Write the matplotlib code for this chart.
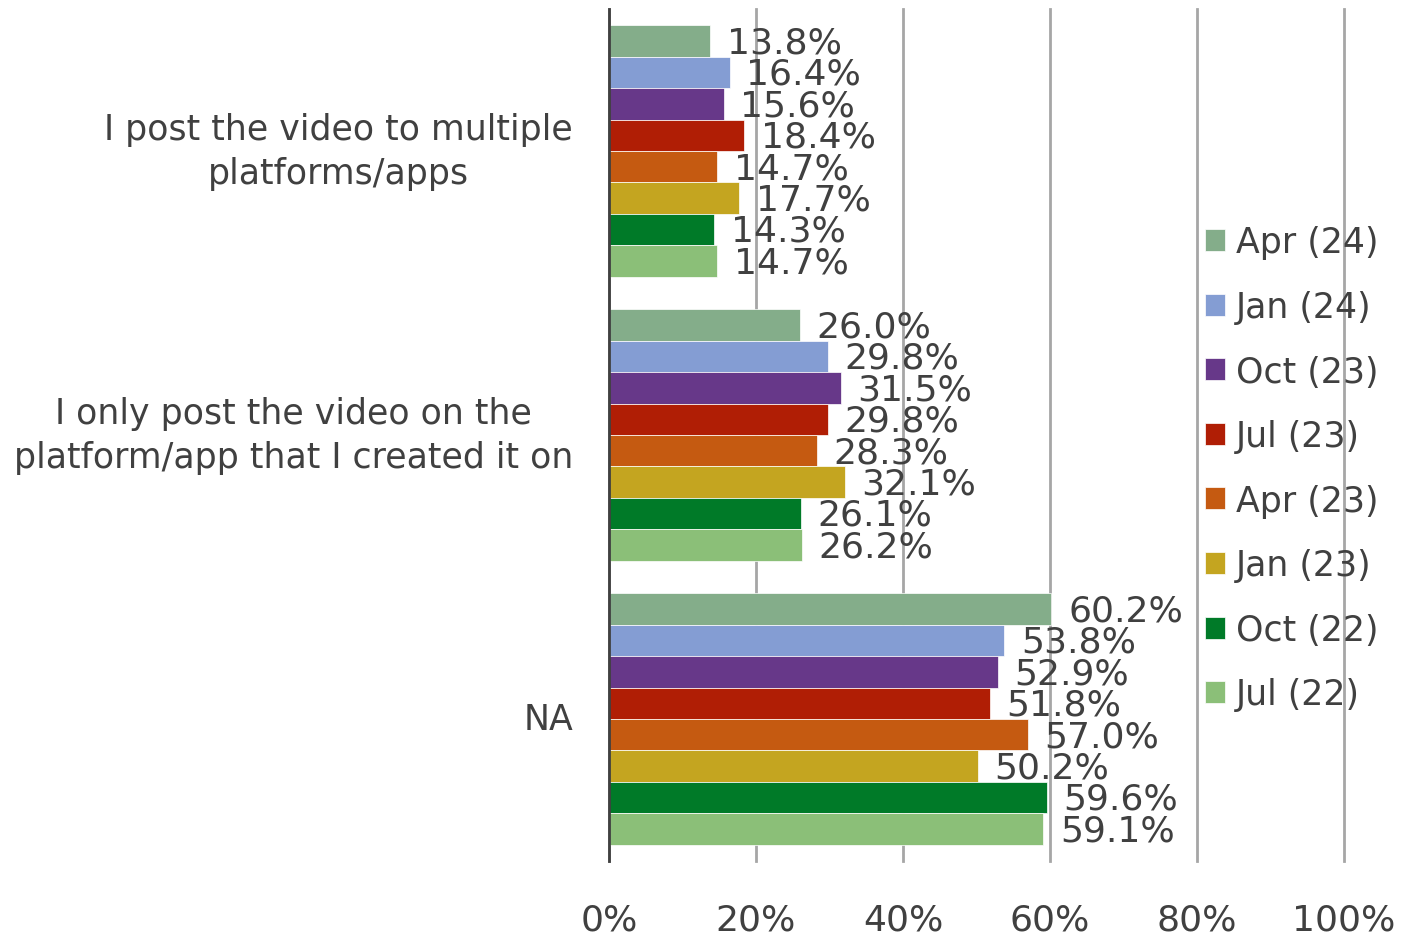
import matplotlib.pyplot as plt
import numpy as np

# categories, top to bottom
categories = [
    "I post the video to multiple\nplatforms/apps",
    "I only post the video on the\nplatform/app that I created it on",
    "NA",
]
series = ["Apr (24)", "Jan (24)", "Oct (23)", "Jul (23)", "Apr (23)", "Jan (23)", "Oct (22)", "Jul (22)"]
colors = ["#84AD8A", "#849DD3", "#673889", "#B01E05", "#C55A11", "#C4A520", "#007A28", "#8BBF78"]

# values per series (percent), one per category
apr24 = [13.8, 26.0, 60.2]
jan24 = [16.4, 29.8, 53.8]
oct23 = [15.6, 31.5, 52.9]
jul23 = [18.4, 29.8, 51.8]
apr23 = [14.7, 28.3, 57.0]
jan23 = [17.7, 32.1, 50.2]
oct22 = [14.3, 26.1, 59.6]
jul22 = [14.7, 26.2, 59.1]
values = [apr24, jan24, oct23, jul23, apr23, jan23, oct22, jul22]

xticks = [0, 20, 40, 60, 80, 100]

TEXT = "#404040"
FS = 26
plt.rcParams["font.family"] = ["DejaVu Sans"]

fig = plt.figure(figsize=(14.12, 9.37), dpi=100)
ax = fig.add_axes([0.4313, 0.08, 0.5205, 0.9093])

n = len(series)
h = 0.885 / n
y = np.arange(len(categories))
handles = []
for i, (name, vals, c) in enumerate(zip(series, values, colors)):
    pos = y - 0.885 / 2 + h * (i + 0.5)
    bars = ax.barh(pos, vals, height=h, color=c, edgecolor="white", linewidth=0.5,
                   label=name, zorder=3)
    handles.append(bars)
    for p, v in zip(pos, vals):
        ax.annotate(f"{v:.1f}%", (v, p), xytext=(12, -1), textcoords="offset points",
                    va="center", ha="left", fontsize=FS, color=TEXT, zorder=4)

ax.set_xlim(0, 100)
ax.set_ylim(len(categories) - 0.5, -0.5)
ax.set_xticks(xticks)
ax.set_xticklabels([f"{t}%" for t in xticks])
ax.set_yticks(y)
ax.set_yticklabels(categories, multialignment="center", linespacing=1.4)
for lbl in ax.get_yticklabels():
    lbl.set_va("center")
ax.tick_params(axis="both", length=0, colors=TEXT)
ax.tick_params(axis="x", pad=30, labelsize=FS)
ax.tick_params(axis="y", pad=26, labelsize=25)

ax.xaxis.grid(True, color="#A6A6A6", linewidth=2, zorder=0)
for line in ax.get_xgridlines():
    line.set_clip_on(False)
for s in ["top", "right", "bottom"]:
    ax.spines[s].set_visible(False)
ax.spines["left"].set_color("#404040")
ax.spines["left"].set_linewidth(2)
ax.spines["left"].set_zorder(5)

fig.legend(handles=handles, loc="center left", bbox_to_anchor=(0.831, 0.499),
           frameon=False, fontsize=25, labelcolor=TEXT, handlelength=0.6,
           handleheight=0.6, handletextpad=0.3, labelspacing=0.88)

fig.savefig("out.png", dpi=100)
